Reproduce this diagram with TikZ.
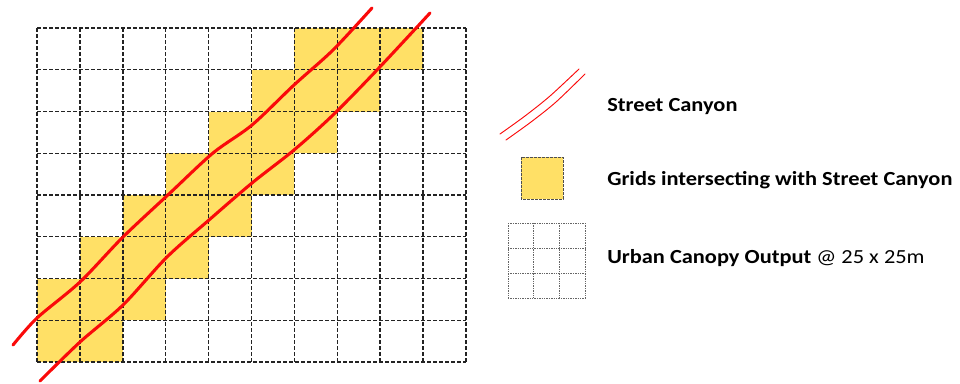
\documentclass[tikz,border=0pt]{standalone}
\usepackage{fontspec}
\usepackage{graphicx}
\setmainfont{Carlito}
\definecolor{cellyellow}{RGB}{255,224,102}
\definecolor{gridgray}{RGB}{35,35,35}
\definecolor{streetred}{RGB}{250,10,10}
\tikzset{
  gridline/.style={draw=gridgray, line width=1.1pt, dash pattern=on 3pt off 1.5pt},
  smallgrid/.style={draw=gridgray!70, line width=0.6pt, dash pattern=on 1pt off 0.8pt},
  cell/.style={fill=cellyellow},
  street/.style={draw=streetred, line width=2.3pt, line cap=round, line join=round},
  thinstreet/.style={draw=streetred, line width=0.7pt, line cap=round},
  legendtext/.style={anchor=base west, inner sep=0pt, font=\fontsize{15}{18}\selectfont\bfseries},
}
\newcommand{\widetxt}[1]{\scalebox{1.12}[1]{#1}}
\begin{document}
\begin{tikzpicture}[x=0.75pt, y=-0.75pt]
\useasboundingbox (0,0) rectangle (960,383);
\def\gx{37}\def\gy{28}\def\cw{42.9}\def\ch{41.75}
\foreach \r/\cols in {0/{6,7,8},1/{5,6,7},2/{4,5,6},3/{3,4,5},4/{2,3,4},5/{1,2,3},6/{0,1,2},7/{0,1}}{
  \foreach \c in \cols {
    \fill[cell] ({\gx+\c*\cw},{\gy+\r*\ch}) rectangle ++(\cw,\ch);
  }
}
\foreach \i in {0,...,10} {
  \draw[gridline] ({\gx+\i*\cw},\gy) -- ({\gx+\i*\cw},{\gy+8*\ch});
}
\foreach \j in {0,...,8} {
  \draw[gridline] (\gx,{\gy+\j*\ch}) -- ({\gx+10*\cw},{\gy+\j*\ch});
}
\draw[street] plot[smooth, tension=0.5] coordinates {(13,345) (37,318) (80,282) (123,237) (170,193) (213,153) (252,125) (294,85) (333,50) (372,8)};
\draw[street] plot[smooth, tension=0.5] coordinates {(40,381) (80,342) (123,305) (167,257) (209,220) (252,183) (294,150) (333,115) (377,70) (430,13)};
\draw[thinstreet] plot[smooth, tension=0.5] coordinates {(500,134) (525,116) (550,96) (579,69)};
\draw[thinstreet] plot[smooth, tension=0.5] coordinates {(506,140) (531,122) (556,102) (585,74)};
\node[legendtext] (t1) at (607,111.5) {\widetxt{Street Canyon}};
\draw[fill=cellyellow, draw=gridgray!80, line width=0.7pt, dash pattern=on 2pt off 1pt] (521,157) rectangle (563,199);
\node[legendtext] (t2) at (607,185) {\widetxt{Grids intersecting with Street Canyon}};
\foreach \i in {0,1,2,3} {
  \draw[smallgrid] ({508+\i*25.67},223) -- ({508+\i*25.67},298);
  \draw[smallgrid] (508,{223+\i*25}) -- (585,{223+\i*25});
}
\node[legendtext] (t3) at (607,263.5) {\widetxt{Urban Canopy Output \mdseries @ 25 x 25m}};
\end{tikzpicture}
\end{document}
